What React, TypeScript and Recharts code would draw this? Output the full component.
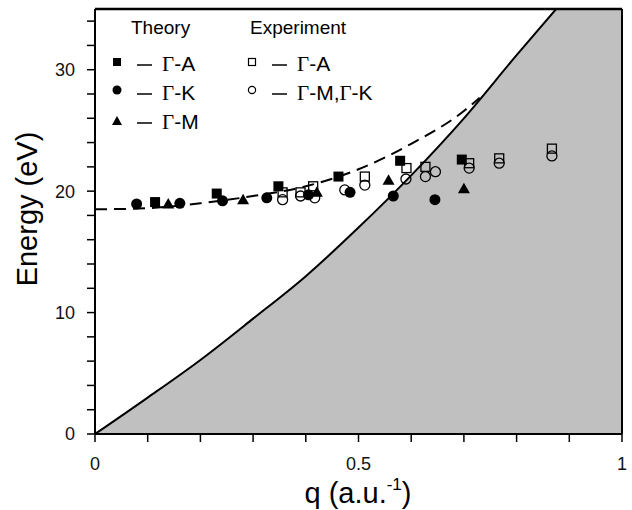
import React from "react";
import {
  ComposedChart,
  Area,
  Line,
  Scatter,
  XAxis,
  YAxis,
  ReferenceLine,
  ReferenceArea,
} from "recharts";

// axis ticks
const qTicks = [0, 0.1, 0.2, 0.3, 0.4, 0.5, 0.6, 0.7, 0.8, 0.9, 1];
const qLabels = [0, 0.5, 1];
const energyTicks = [0, 2, 4, 6, 8, 10, 12, 14, 16, 18, 20, 22, 24, 26, 28, 30, 32, 34];
const energyLabels = [0, 10, 20, 30];

// electron-hole continuum boundary (solid line, shaded below and to the right)
const continuumQ = [0, 0.1, 0.2, 0.3, 0.4, 0.5, 0.6, 0.7, 0.8, 0.875];
const continuumE = [0, 3.0, 6.1, 9.5, 13.0, 17.0, 21.3, 26.0, 31.2, 35];

// plasmon dispersion (dashed)
const dispersionQ = [0, 0.1, 0.2, 0.3, 0.4, 0.5, 0.6, 0.7, 0.73];
const dispersionE = [18.5, 18.6, 19.0, 19.6, 20.4, 21.8, 23.9, 26.6, 27.7];

// theory
const theoryGAQ = [0.114, 0.231, 0.348, 0.462, 0.579, 0.696];
const theoryGAE = [19.1, 19.8, 20.4, 21.2, 22.5, 22.6];
const theoryGKQ = [0.079, 0.161, 0.242, 0.326, 0.405, 0.484, 0.566, 0.645];
const theoryGKE = [18.95, 19.0, 19.2, 19.45, 19.7, 19.9, 19.6, 19.3];
const theoryGMQ = [0.139, 0.281, 0.421, 0.557, 0.7];
const theoryGME = [18.95, 19.3, 19.9, 20.9, 20.2];

// experiment
const exptGAQ = [0.356, 0.39, 0.414, 0.512, 0.591, 0.627, 0.71, 0.767, 0.867];
const exptGAE = [19.9, 19.9, 20.4, 21.2, 21.9, 22.0, 22.3, 22.7, 23.5];
const exptGMKQ = [0.356, 0.39, 0.417, 0.474, 0.512, 0.59, 0.627, 0.646, 0.71, 0.767, 0.867];
const exptGMKE = [19.3, 19.6, 19.45, 20.1, 20.5, 21.0, 21.2, 21.6, 21.9, 22.3, 22.9];

const zip = (qs: number[], es: number[]) => qs.map((q, i) => ({ q, e: es[i] }));

const continuum = zip(continuumQ, continuumE);
const dispersion = zip(dispersionQ, dispersionE);
const continuumEnd = continuumQ[continuumQ.length - 1];

const sans = "'Liberation Sans', Arial, Helvetica, sans-serif";
const serif = "'Liberation Serif', 'Times New Roman', serif";
const shade = "#c0c0c0";

const FilledSquare = (p: any) => (
  <rect x={p.cx - 5} y={p.cy - 5} width={10} height={10} fill="#000" />
);
const FilledCircle = (p: any) => <circle cx={p.cx} cy={p.cy} r={5.5} fill="#000" />;
const FilledTriangle = (p: any) => (
  <polygon
    points={`${p.cx},${p.cy - 6} ${p.cx - 6},${p.cy + 4.5} ${p.cx + 6},${p.cy + 4.5}`}
    fill="#000"
  />
);
const OpenSquare = (p: any) => (
  <rect
    x={p.cx - 4.5}
    y={p.cy - 4.5}
    width={9}
    height={9}
    fill="none"
    stroke="#000"
    strokeWidth={1.3}
  />
);
const OpenCircle = (p: any) => (
  <circle cx={p.cx} cy={p.cy} r={5} fill="none" stroke="#000" strokeWidth={1.3} />
);

function LegendRow({
  x,
  y,
  marker,
  label,
}: {
  x: number;
  y: number;
  marker: React.ReactNode;
  label: string[];
}) {
  // Gamma in serif, the rest in sans
  return (
    <g>
      {marker}
      <line x1={x + 20} x2={x + 35} y1={y - 6} y2={y - 6} stroke="#000" strokeWidth={1.5} />
      <text x={x + 45} y={y} fontSize={21} fill="#000">
        {label.map((part, i) =>
          part === "Γ" ? (
            <tspan key={i} fontFamily={serif}>
              Γ
            </tspan>
          ) : (
            <tspan key={i} fontFamily={sans}>
              {part}
            </tspan>
          )
        )}
      </text>
    </g>
  );
}

export default function App() {
  return (
    <div style={{ position: "absolute", left: 0, top: 0, width: 632, height: 510 }}>
      <ComposedChart
        width={632}
        height={510}
        margin={{ top: 9, right: 10, bottom: 36, left: 0 }}
        style={{ fontFamily: sans }}
      >
        <XAxis
          type="number"
          dataKey="q"
          domain={[0, 1]}
          ticks={qTicks}
          allowDataOverflow
          height={40}
          tickSize={8}
          tickMargin={15}
          tickFormatter={(v: number) => (qLabels.includes(v) ? String(v) : "")}
          tick={{ fill: "#111", fontSize: 18 }}
          axisLine={{ stroke: "#000", strokeWidth: 2 }}
          tickLine={{ stroke: "#000", strokeWidth: 1.5 }}
        />
        <YAxis
          type="number"
          dataKey="e"
          domain={[0, 35]}
          ticks={energyTicks}
          allowDataOverflow
          width={95}
          tickSize={8}
          tickMargin={12}
          tickFormatter={(v: number) => (energyLabels.includes(v) ? String(v) : "")}
          tick={{ fill: "#111", fontSize: 18 }}
          axisLine={{ stroke: "#000", strokeWidth: 2 }}
          tickLine={{ stroke: "#000", strokeWidth: 1.5 }}
        />
        <ReferenceArea
          x1={continuumEnd}
          x2={1}
          y1={0}
          y2={35}
          fill={shade}
          fillOpacity={1}
          stroke={shade}
          strokeWidth={1.5}
        />
        <Area
          data={continuum}
          dataKey="e"
          type="monotone"
          fill={shade}
          fillOpacity={1}
          stroke="#000"
          strokeWidth={2}
          isAnimationActive={false}
        />
        <Line
          data={dispersion}
          dataKey="e"
          type="monotone"
          stroke="#000"
          strokeWidth={2}
          strokeDasharray="12 7"
          dot={false}
          isAnimationActive={false}
        />
        <ReferenceLine y={35} stroke="#000" strokeWidth={2.5} />
        <ReferenceLine x={1} stroke="#000" strokeWidth={2} />
        <Scatter data={zip(theoryGAQ, theoryGAE)} dataKey="e" shape={FilledSquare} isAnimationActive={false} />
        <Scatter data={zip(theoryGKQ, theoryGKE)} dataKey="e" shape={FilledCircle} isAnimationActive={false} />
        <Scatter data={zip(theoryGMQ, theoryGME)} dataKey="e" shape={FilledTriangle} isAnimationActive={false} />
        <Scatter data={zip(exptGAQ, exptGAE)} dataKey="e" shape={OpenSquare} isAnimationActive={false} />
        <Scatter data={zip(exptGMKQ, exptGMKE)} dataKey="e" shape={OpenCircle} isAnimationActive={false} />
      </ComposedChart>

      <svg
        width={632}
        height={510}
        style={{ position: "absolute", left: 0, top: 0, pointerEvents: "none" }}
      >
        {/* axis titles */}
        <text
          x={37}
          y={209}
          transform="rotate(-90 37 209)"
          textAnchor="middle"
          fontFamily={sans}
          fontSize={29}
          fill="#000"
        >
          Energy (eV)
        </text>
        <text x={358} y={503} textAnchor="middle" fontFamily={sans} fontSize={29} fill="#000">
          q (a.u.
          <tspan fontSize={17} dy={-13}>
            -1
          </tspan>
          <tspan dy={13}>)</tspan>
        </text>

        {/* legend */}
        <text x={131} y={34} fontFamily={sans} fontSize={19} fill="#000">
          Theory
        </text>
        <text x={250} y={34} fontFamily={sans} fontSize={19} fill="#000">
          Experiment
        </text>
        <LegendRow
          x={117}
          y={71}
          marker={<rect x={113} y={58} width={8} height={8} fill="#000" />}
          label={["Γ", "-A"]}
        />
        <LegendRow
          x={117}
          y={100}
          marker={<circle cx={117} cy={90} r={4.5} fill="#000" />}
          label={["Γ", "-K"]}
        />
        <LegendRow
          x={117}
          y={129}
          marker={<polygon points="117,116 112,125 122,125" fill="#000" />}
          label={["Γ", "-M"]}
        />
        <LegendRow
          x={252}
          y={71}
          marker={
            <rect x={248.5} y={58.5} width={7} height={7} fill="none" stroke="#000" strokeWidth={1.2} />
          }
          label={["Γ", "-A"]}
        />
        <LegendRow
          x={252}
          y={100}
          marker={<circle cx={252} cy={90} r={3.6} fill="none" stroke="#000" strokeWidth={1.2} />}
          label={["Γ", "-M,", "Γ", "-K"]}
        />
      </svg>
    </div>
  );
}
